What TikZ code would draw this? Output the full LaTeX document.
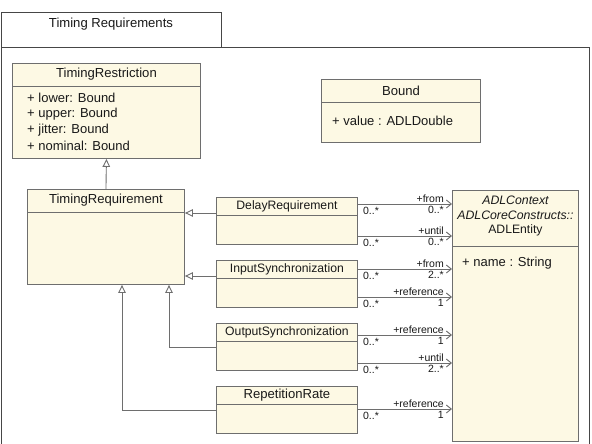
\documentclass[tikz,border=0pt]{standalone}
\usepackage{fontspec}
\setmainfont{Liberation Sans}
\usetikzlibrary{arrows.meta,calc}
\definecolor{clsfill}{RGB}{253,249,228}
\definecolor{clsline}{RGB}{110,110,110}
\definecolor{txt}{RGB}{25,25,25}
\definecolor{pkgline}{RGB}{70,70,70}
\begin{document}
\begin{tikzpicture}[x=1pt,y=-1pt,
  pkg/.style={draw=pkgline, line width=0.9pt},
  cls/.style={draw=clsline, fill=clsfill, line width=0.9pt, inner sep=0pt, anchor=north west},
  divider/.style={draw=clsline, line width=0.9pt},
  clsname/.style={font=\fontsize{13.1}{15}\selectfont, text=txt, inner sep=0pt},
  smallname/.style={font=\fontsize{12.2}{14}\selectfont, text=txt, inner sep=0pt},
  italname/.style={font=\fontsize{12.3}{14}\selectfont\itshape, text=txt, inner sep=0pt},
  attr/.style={font=\fontsize{13}{15}\selectfont, text=txt, inner sep=0pt, anchor=west},
  gen/.style={draw=clsline, line width=0.9pt, -{Triangle[open, length=8pt, width=7.5pt, fill=white]}},
  assoc/.style={draw=clsline, line width=0.9pt, -{Straight Barb[length=5pt, width=8pt]}},
  rolelab/.style={font=\fontsize{10.5}{12}\selectfont, text=txt, inner sep=0pt},
  role/.style={rolelab, anchor=south east},
  multend/.style={rolelab, anchor=north east},
  multstart/.style={rolelab, anchor=north west}
]
\useasboundingbox (0,0) rectangle (592,444);
\fill[white] (0,0) rectangle (592,444);

% package frame
\draw[pkg] (1,47) rectangle (221,12);
\draw[pkg] (1,452) -- (1,47) -- (589,47) -- (589,452);
\node[clsname] (pkgname) at (111,24) {Timing Requirements};

% TimingRestriction
\node[cls, minimum width=188pt, minimum height=95pt] (tr) at (12,63) {};
\draw[divider] ([yshift=-23pt]tr.north west) -- ([yshift=-23pt]tr.north east);
\node[clsname] (trn) at ($(tr.north)+(0,11.5)$) {TimingRestriction};
\node[attr] (tra1) at ($(tr.north west)+(15,35)$) {+ lower: Bound};
\node[attr] (tra2) at ($(tr.north west)+(15,51)$) {+ upper: Bound};
\node[attr] (tra3) at ($(tr.north west)+(15,67)$) {+ jitter: Bound};
\node[attr] (tra4) at ($(tr.north west)+(15,83)$) {+ nominal: Bound};

% Bound
\node[cls, minimum width=159pt, minimum height=63pt] (bd) at (321,79) {};
\draw[divider] ([yshift=-23pt]bd.north west) -- ([yshift=-23pt]bd.north east);
\node[clsname] (bdn) at ($(bd.north)+(0,11.5)$) {Bound};
\node[attr] (bda) at ($(bd.north west)+(11,42)$) {+ value : ADLDouble};

% TimingRequirement
\node[cls, minimum width=157pt, minimum height=95pt] (treq) at (27,189) {};
\draw[divider] ([yshift=-23pt]treq.north west) -- ([yshift=-23pt]treq.north east);
\node[clsname] (treqn) at ($(treq.north)+(0,11)$) {TimingRequirement};

% DelayRequirement
\node[cls, minimum width=141pt, minimum height=47pt] (dr) at (216,197) {};
\draw[divider] ([yshift=-18pt]dr.north west) -- ([yshift=-18pt]dr.north east);
\node[smallname] (drn) at ($(dr.north)+(0,9)$) {DelayRequirement};

% InputSynchronization
\node[cls, minimum width=141pt, minimum height=47pt] (is) at (216,260) {};
\draw[divider] ([yshift=-18pt]is.north west) -- ([yshift=-18pt]is.north east);
\node[smallname] (isn) at ($(is.north)+(0,9)$) {InputSynchronization};

% OutputSynchronization
\node[cls, minimum width=141pt, minimum height=47pt] (os) at (216,323) {};
\draw[divider] ([yshift=-18.5pt]os.north west) -- ([yshift=-18.5pt]os.north east);
\node[smallname] (osn) at ($(os.north)+(0,9)$) {OutputSynchronization};

% RepetitionRate
\node[cls, minimum width=141pt, minimum height=47pt] (rr) at (216,386) {};
\draw[divider] ([yshift=-18pt]rr.north west) -- ([yshift=-18pt]rr.north east);
\node[clsname] (rrn) at ($(rr.north)+(0,9)$) {RepetitionRate};

% ADLEntity
\node[cls, minimum width=126pt, minimum height=251pt] (adl) at (452,190) {};
\draw[divider] ([yshift=-56pt]adl.north west) -- ([yshift=-56pt]adl.north east);
\node[italname] (adl1) at ($(adl.north)+(0,10)$) {ADLContext};
\node[italname] (adl2) at ($(adl.north)+(0,25)$) {ADLCoreConstructs::};
\node[smallname] (adl3) at ($(adl.north)+(0,40)$) {ADLEntity};
\node[attr] (adla) at ($(adl.north west)+(10,73)$) {+ name : String};

% generalizations
\draw[gen] (treq.north) -- (tr.south);
\coordinate (drb) at ([yshift=-16pt]dr.north west);
\draw[gen] (drb) -- (treq.east |- drb);
\coordinate (isb) at ([yshift=-16pt]is.north west);
\draw[gen] (isb) -- (treq.east |- isb);
\coordinate (osb) at ([yshift=-24pt]os.north west);
\coordinate (osk) at (169,0);
\draw[gen] (osb) -- (osk |- osb) -- (osk |- treq.south);
\coordinate (rrb) at ([yshift=-24pt]rr.north west);
\coordinate (rrk) at (122,0);
\draw[gen] (rrb) -- (rrk |- rrb) -- (rrk |- treq.south);

% associations
\foreach \src/\dy/\rl/\me/\nm in {dr/7/+from/0..*/a1, dr/39/+until/0..*/a2,
  is/9/+from/2..*/a3, is/37/+reference/1/a4,
  os/12/+reference/1/a5, os/40/+until/2..*/a6,
  rr/23/+reference/1/a7}{
  \coordinate (\nm s) at ([yshift=-\dy pt]\src.north east);
  \coordinate (\nm e) at (adl.west |- \nm s);
  \draw[assoc] (\nm s) -- (\nm e);
  \node[role] at ($(\nm e)+(-8,-1.5)$) {\rl};
  \node[multend] at ($(\nm e)+(-8,2)$) {\me};
  \node[multstart] at ($(\nm s)+(5,2.5)$) {0..*};
}
\end{tikzpicture}
\end{document}
